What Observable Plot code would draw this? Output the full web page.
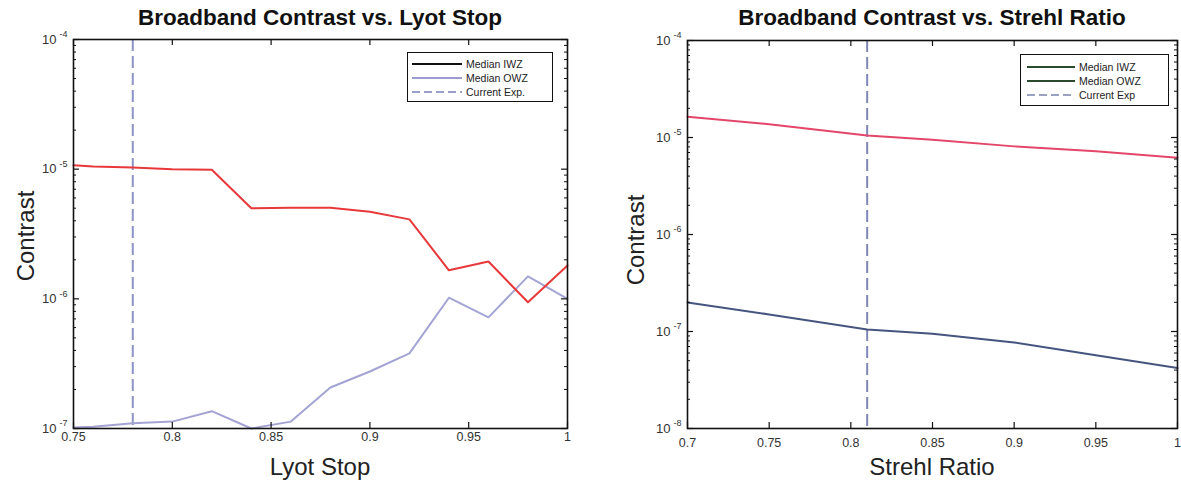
<!DOCTYPE html>
<html><head><meta charset="utf-8">
<script src="https://cdn.jsdelivr.net/npm/d3@7"></script>
<script src="https://cdn.jsdelivr.net/npm/@observablehq/plot@0.6"></script>
<style>
body{margin:0;background:#fff;font-family:"Liberation Sans",Arial,sans-serif;}
#root{position:relative;width:1181px;height:481px;overflow:hidden;background:#fff;}
.panel{position:absolute;top:0;}
.title{position:absolute;font-weight:bold;font-size:22.5px;white-space:nowrap;transform:translate(-50%,-50%);color:#111;}
.xlab{position:absolute;font-size:24px;transform:translate(-50%,-50%);white-space:nowrap;color:#222;}
.ylab{position:absolute;font-size:24px;transform:translate(-50%,-50%) rotate(-90deg);white-space:nowrap;color:#222;}
.legend{position:absolute;border:1.5px solid #111;background:#fff;font-size:10.5px;color:#222;box-sizing:border-box;}
.legend .row{position:absolute;left:0;height:12px;display:flex;align-items:center;white-space:nowrap;}
</style></head><body><div id="root"></div>
<script>
// ---------- data ----------
const lyotStop = [0.75, 0.76, 0.78, 0.80, 0.82, 0.84, 0.86, 0.88, 0.90, 0.92, 0.94, 0.96, 0.98, 1.00];
const lyotIWZ  = [1.07e-5, 1.05e-5, 1.03e-5, 1.0e-5, 9.9e-6, 5.0e-6, 5.05e-6, 5.05e-6, 4.7e-6, 4.1e-6, 1.66e-6, 1.94e-6, 9.4e-7, 1.81e-6];
const lyotOWZ  = [1.02e-7, 1.03e-7, 1.1e-7, 1.13e-7, 1.36e-7, 1.0e-7, 1.13e-7, 2.07e-7, 2.75e-7, 3.8e-7, 1.02e-6, 7.2e-7, 1.49e-6, 1.0e-6];
const lyotCurrent = [0.78];
const lyotTicks = [0.75, 0.8, 0.85, 0.9, 0.95, 1];

const strehlRatio = [0.70, 0.75, 0.81, 0.85, 0.90, 0.95, 1.00];
const strehlIWZ   = [1.64e-5, 1.37e-5, 1.05e-5, 9.5e-6, 8.1e-6, 7.2e-6, 6.2e-6];
const strehlOWZ   = [1.99e-7, 1.5e-7, 1.05e-7, 9.5e-8, 7.7e-8, 5.7e-8, 4.2e-8];
const strehlCurrent = [0.81];
const strehlTicks = [0.7, 0.75, 0.8, 0.85, 0.9, 0.95, 1];

const legendLabelsLyot = ["Median IWZ", "Median OWZ", "Current Exp."];
const legendLabelsStrehl = ["Median IWZ", "Median OWZ", "Current Exp"];

// ---------- helpers ----------
const expOf = v => String(Math.round(Math.log10(v)));

function makePanel(o){
  const H = 481, mt = o.mt, mb = o.mb;
  const ih = H - mt - mb, iw = o.width - o.ml - o.mr;
  const e0 = Math.round(Math.log10(o.yDomain[0])), e1 = Math.round(Math.log10(o.yDomain[1]));
  const yMajor = d3.range(e0, e1 + 1).map(e => Math.pow(10, e));
  const yMinor = [];
  for (let e = e0; e < e1; e++) for (let k = 2; k <= 9; k++) yMinor.push(k * Math.pow(10, e));
  const rows = o.xs.map((x, i) => ({x, iwz: o.iwz[i], owz: o.owz[i]}));
  return Plot.plot({
    width: o.width, height: H,
    marginLeft: o.ml, marginRight: o.mr, marginTop: mt, marginBottom: mb,
    style: {fontFamily: '"Liberation Sans", Arial, sans-serif', fontSize: "12.5px", overflow: "visible", background: "transparent", color: "#333"},
    x: {domain: o.xDomain},
    y: {type: "log", domain: o.yDomain, axis: null},
    marks: [
      Plot.ruleX(o.current, {stroke: o.dashColor, strokeWidth: 2, strokeDasharray: "12,5"}),
      Plot.line(rows, {x: "x", y: "owz", stroke: o.owzColor, strokeWidth: 2}),
      Plot.line(rows, {x: "x", y: "iwz", stroke: o.iwzColor, strokeWidth: 2}),
      // inward ticks
      Plot.tickX(o.xTicks, {x: d => d, insetTop: ih - 6, stroke: "#111", strokeWidth: 1.2}),
      Plot.tickX(o.xTicks, {x: d => d, insetBottom: ih - 6, stroke: "#111", strokeWidth: 1.2}),
      Plot.tickY(yMajor, {y: d => d, insetRight: iw - 6, stroke: "#111", strokeWidth: 1.2}),
      Plot.tickY(yMajor, {y: d => d, insetLeft: iw - 6, stroke: "#111", strokeWidth: 1.2}),
      Plot.tickY(yMinor, {y: d => d, insetRight: iw - 3, stroke: "#111", strokeWidth: 1}),
      Plot.tickY(yMinor, {y: d => d, insetLeft: iw - 3, stroke: "#111", strokeWidth: 1}),
      Plot.axisX({ticks: o.xTicks, tickSize: 0, tickPadding: o.xPad, tickFormat: d => String(d), label: null}),
      // y tick labels: base "10" plus raised exponent
      Plot.text(yMajor, {y: d => d, frameAnchor: "left", text: () => "10", textAnchor: "end", dx: -17, fontSize: 13, fill: "#333"}),
      Plot.text(yMajor, {y: d => d, frameAnchor: "left", text: expOf, textAnchor: "end", dx: -6, dy: -5, fontSize: 9, fill: "#333"}),
      Plot.frame({stroke: "#111", strokeWidth: 1.6})
    ]
  });
}

function addLegend(root, box, labels, colors, dashes){
  const lg = document.createElement("div");
  lg.className = "legend";
  Object.assign(lg.style, {left: box.x + "px", top: box.y + "px", width: box.w + "px", height: box.h + "px"});
  labels.forEach((lab, i) => {
    const r = document.createElement("div");
    r.className = "row";
    r.style.top = (box.rowTop + i * box.rowGap) + "px";
    r.style.left = box.lineX + "px";
    r.innerHTML = `<svg width="${box.lineW}" height="12" style="margin-right:4px"><line x1="0" x2="${box.lineW}" y1="6" y2="6" stroke="${colors[i]}" stroke-width="1.8" ${dashes[i] ? 'stroke-dasharray="8,4"' : ''}/></svg><span>${lab}</span>`;
    lg.appendChild(r);
  });
  root.appendChild(lg);
}

function addText(root, cls, text, x, y){
  const d = document.createElement("div");
  d.className = cls; d.textContent = text;
  d.style.left = x + "px"; d.style.top = y + "px";
  root.appendChild(d);
}

const root = document.getElementById("root");

// Left panel
const left = makePanel({
  width: 590, ml: 73, mr: 23, mt: 39, mb: 53, xPad: 4,
  xs: lyotStop, iwz: lyotIWZ, owz: lyotOWZ, current: lyotCurrent,
  xDomain: [0.75, 1], xTicks: lyotTicks, yDomain: [1e-7, 1e-4],
  iwzColor: "#e8383a", owzColor: "#a4a4d4", dashColor: "#8d93c4"
});
left.classList.add("panel"); left.style.left = "0px";
root.appendChild(left);

// Right panel
const right = makePanel({
  width: 591, ml: 97, mr: 4, mt: 40, mb: 53, xPad: 10,
  xs: strehlRatio, iwz: strehlIWZ, owz: strehlOWZ, current: strehlCurrent,
  xDomain: [0.7, 1], xTicks: strehlTicks, yDomain: [1e-8, 1e-4],
  iwzColor: "#e4466a", owzColor: "#46557f", dashColor: "#7f86b4"
});
right.classList.add("panel"); right.style.left = "590px";
root.appendChild(right);

// Titles and axis labels
addText(root, "title", "Broadband Contrast vs. Lyot Stop", 320, 18);
addText(root, "title", "Broadband Contrast vs. Strehl Ratio", 932, 18);
addText(root, "xlab", "Lyot Stop", 320, 467);
addText(root, "xlab", "Strehl Ratio", 932, 467);
addText(root, "ylab", "Contrast", 26, 236);
addText(root, "ylab", "Contrast", 636, 240);

// Legends
addLegend(root, {x: 407, y: 52, w: 146, h: 50, rowTop: 5, rowGap: 14, lineX: 4, lineW: 50},
  legendLabelsLyot, ["#111", "#9c9cd0", "#9aa0cc"], [false, false, true]);
addLegend(root, {x: 1020, y: 54, w: 149, h: 52, rowTop: 6, rowGap: 14, lineX: 6, lineW: 48},
  legendLabelsStrehl, ["#2c4a2c", "#2c4a2c", "#9aa0c0"], [false, false, true]);
</script>
</body></html>
